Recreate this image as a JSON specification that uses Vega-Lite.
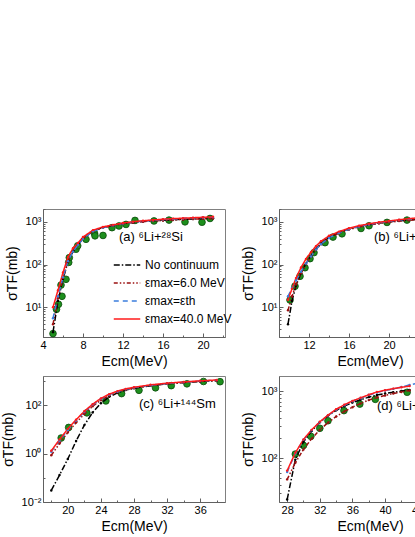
{
  "$schema": "https://vega.github.io/schema/vega-lite/v6.json",
  "background": "white",
  "padding": {"left": 0, "top": 208, "right": 0, "bottom": 0},
  "config": {
    "font": "Liberation Sans",
    "view": {"stroke": "#808080", "strokeWidth": 1},
    "axis": {"domainColor": "#606060", "tickColor": "#606060", "labelFontSize": 11, "labelColor": "black", "titleFontSize": 14, "titleFontWeight": "normal", "titleColor": "black", "grid": false, "labelFlush": false},
    "title": {"anchor": "start", "frame": "group", "orient": "top", "baseline": "middle", "fontSize": 13, "fontWeight": "normal", "font": "Liberation Sans", "color": "black"}
  },
  "datasets": {
    "exp": [
      {"p":"a","E":5.0,"s":2.4},{"p":"a","E":5.35,"s":8.9},{"p":"a","E":5.55,"s":11.7},{"p":"a","E":5.9,"s":18},{"p":"a","E":5.8,"s":33},{"p":"a","E":6.3,"s":45},{"p":"a","E":6.57,"s":112},{"p":"a","E":6.63,"s":145},{"p":"a","E":7.3,"s":228},{"p":"a","E":7.47,"s":275},{"p":"a","E":8.3,"s":390},{"p":"a","E":9.15,"s":540},{"p":"a","E":9.2,"s":470},{"p":"a","E":10.0,"s":480},{"p":"a","E":10.9,"s":730},{"p":"a","E":11.6,"s":800},{"p":"a","E":12.3,"s":870},{"p":"a","E":13.2,"s":1080},{"p":"a","E":15.1,"s":1050},{"p":"a","E":16.6,"s":1100},{"p":"a","E":18.2,"s":1000},{"p":"a","E":19.9,"s":980},{"p":"a","E":20.7,"s":1200},
      {"p":"b","E":10.1,"s":14.8},{"p":"b","E":10.6,"s":31},{"p":"b","E":11.1,"s":53},{"p":"b","E":11.6,"s":84},{"p":"b","E":12.1,"s":137},{"p":"b","E":12.5,"s":190},{"p":"b","E":13.6,"s":325},{"p":"b","E":14.4,"s":440},{"p":"b","E":15.3,"s":525},{"p":"b","E":17.2,"s":700},{"p":"b","E":18.0,"s":810},{"p":"b","E":19.8,"s":970},{"p":"b","E":21.8,"s":1100},{"p":"b","E":23.6,"s":1150},{"p":"b","E":25.4,"s":1200},
      {"p":"c","E":19.2,"s":4.4},{"p":"c","E":20.1,"s":12},{"p":"c","E":22.3,"s":48},{"p":"c","E":24.6,"s":150},{"p":"c","E":26.5,"s":300},{"p":"c","E":28.6,"s":410},{"p":"c","E":30.6,"s":520},{"p":"c","E":32.5,"s":640},{"p":"c","E":34.4,"s":760},{"p":"c","E":36.4,"s":950},{"p":"c","E":38.4,"s":930},
      {"p":"d","E":29.0,"s":115},{"p":"d","E":30.0,"s":155},{"p":"d","E":30.9,"s":212},{"p":"d","E":32.0,"s":280},{"p":"d","E":33.0,"s":363},{"p":"d","E":34.96,"s":515},{"p":"d","E":36.9,"s":645},{"p":"d","E":38.8,"s":760},{"p":"d","E":42.7,"s":970}
    ],
    "th": [
      {"p":"a","m":"No continuum","E":5,"s":2.6},{"p":"a","m":"No continuum","E":5.5,"s":14},{"p":"a","m":"No continuum","E":6,"s":46},{"p":"a","m":"No continuum","E":6.5,"s":115},{"p":"a","m":"No continuum","E":7,"s":200},{"p":"a","m":"No continuum","E":7.5,"s":290},{"p":"a","m":"No continuum","E":8,"s":410},{"p":"a","m":"No continuum","E":9,"s":610},{"p":"a","m":"No continuum","E":10,"s":740},{"p":"a","m":"No continuum","E":11,"s":830},{"p":"a","m":"No continuum","E":12,"s":910},{"p":"a","m":"No continuum","E":13,"s":970},{"p":"a","m":"No continuum","E":14,"s":1020},{"p":"a","m":"No continuum","E":15,"s":1060},{"p":"a","m":"No continuum","E":16,"s":1090},{"p":"a","m":"No continuum","E":17,"s":1120},{"p":"a","m":"No continuum","E":18,"s":1150},{"p":"a","m":"No continuum","E":19,"s":1170},{"p":"a","m":"No continuum","E":20,"s":1190},{"p":"a","m":"No continuum","E":21,"s":1210},
      {"p":"a","m":"εmax=6.0 MeV","E":5,"s":4},{"p":"a","m":"εmax=6.0 MeV","E":5.5,"s":16},{"p":"a","m":"εmax=6.0 MeV","E":6,"s":48},{"p":"a","m":"εmax=6.0 MeV","E":6.5,"s":118},{"p":"a","m":"εmax=6.0 MeV","E":7,"s":200},{"p":"a","m":"εmax=6.0 MeV","E":7.5,"s":290},{"p":"a","m":"εmax=6.0 MeV","E":8,"s":400},{"p":"a","m":"εmax=6.0 MeV","E":9,"s":600},{"p":"a","m":"εmax=6.0 MeV","E":10,"s":730},{"p":"a","m":"εmax=6.0 MeV","E":11,"s":820},{"p":"a","m":"εmax=6.0 MeV","E":12,"s":900},{"p":"a","m":"εmax=6.0 MeV","E":13,"s":960},{"p":"a","m":"εmax=6.0 MeV","E":14,"s":1010},{"p":"a","m":"εmax=6.0 MeV","E":15,"s":1050},{"p":"a","m":"εmax=6.0 MeV","E":16,"s":1080},{"p":"a","m":"εmax=6.0 MeV","E":17,"s":1110},{"p":"a","m":"εmax=6.0 MeV","E":18,"s":1140},{"p":"a","m":"εmax=6.0 MeV","E":19,"s":1160},{"p":"a","m":"εmax=6.0 MeV","E":20,"s":1180},{"p":"a","m":"εmax=6.0 MeV","E":21,"s":1200},
      {"p":"a","m":"εmax=εth","E":5,"s":5.5},{"p":"a","m":"εmax=εth","E":5.5,"s":18},{"p":"a","m":"εmax=εth","E":6,"s":50},{"p":"a","m":"εmax=εth","E":6.5,"s":120},{"p":"a","m":"εmax=εth","E":7,"s":200},{"p":"a","m":"εmax=εth","E":7.5,"s":290},{"p":"a","m":"εmax=εth","E":8,"s":400},{"p":"a","m":"εmax=εth","E":9,"s":600},{"p":"a","m":"εmax=εth","E":10,"s":730},{"p":"a","m":"εmax=εth","E":11,"s":830},{"p":"a","m":"εmax=εth","E":12,"s":920},{"p":"a","m":"εmax=εth","E":13,"s":990},{"p":"a","m":"εmax=εth","E":14,"s":1040},{"p":"a","m":"εmax=εth","E":15,"s":1090},{"p":"a","m":"εmax=εth","E":16,"s":1130},{"p":"a","m":"εmax=εth","E":17,"s":1170},{"p":"a","m":"εmax=εth","E":18,"s":1200},{"p":"a","m":"εmax=εth","E":19,"s":1230},{"p":"a","m":"εmax=εth","E":20,"s":1260},{"p":"a","m":"εmax=εth","E":21,"s":1290},
      {"p":"a","m":"εmax=40.0 MeV","E":5,"s":10},{"p":"a","m":"εmax=40.0 MeV","E":5.5,"s":25},{"p":"a","m":"εmax=40.0 MeV","E":6,"s":65},{"p":"a","m":"εmax=40.0 MeV","E":6.5,"s":150},{"p":"a","m":"εmax=40.0 MeV","E":7,"s":240},{"p":"a","m":"εmax=40.0 MeV","E":7.5,"s":320},{"p":"a","m":"εmax=40.0 MeV","E":8,"s":440},{"p":"a","m":"εmax=40.0 MeV","E":9,"s":640},{"p":"a","m":"εmax=40.0 MeV","E":10,"s":760},{"p":"a","m":"εmax=40.0 MeV","E":11,"s":850},{"p":"a","m":"εmax=40.0 MeV","E":12,"s":940},{"p":"a","m":"εmax=40.0 MeV","E":13,"s":1010},{"p":"a","m":"εmax=40.0 MeV","E":14,"s":1060},{"p":"a","m":"εmax=40.0 MeV","E":15,"s":1110},{"p":"a","m":"εmax=40.0 MeV","E":16,"s":1150},{"p":"a","m":"εmax=40.0 MeV","E":17,"s":1190},{"p":"a","m":"εmax=40.0 MeV","E":18,"s":1220},{"p":"a","m":"εmax=40.0 MeV","E":19,"s":1250},{"p":"a","m":"εmax=40.0 MeV","E":20,"s":1280},{"p":"a","m":"εmax=40.0 MeV","E":21,"s":1310},

      {"p":"b","m":"No continuum","E":9.9,"s":4},{"p":"b","m":"No continuum","E":10.3,"s":14},{"p":"b","m":"No continuum","E":10.7,"s":32},{"p":"b","m":"No continuum","E":11.2,"s":62},{"p":"b","m":"No continuum","E":11.7,"s":105},{"p":"b","m":"No continuum","E":12.2,"s":160},{"p":"b","m":"No continuum","E":12.7,"s":230},{"p":"b","m":"No continuum","E":13.2,"s":310},{"p":"b","m":"No continuum","E":14,"s":430},{"p":"b","m":"No continuum","E":15,"s":560},{"p":"b","m":"No continuum","E":16,"s":680},{"p":"b","m":"No continuum","E":17,"s":780},{"p":"b","m":"No continuum","E":18,"s":860},{"p":"b","m":"No continuum","E":19,"s":940},{"p":"b","m":"No continuum","E":20,"s":1000},{"p":"b","m":"No continuum","E":21,"s":1060},{"p":"b","m":"No continuum","E":22,"s":1110},{"p":"b","m":"No continuum","E":23,"s":1150},{"p":"b","m":"No continuum","E":24,"s":1190},{"p":"b","m":"No continuum","E":25,"s":1220},{"p":"b","m":"No continuum","E":26,"s":1250},
      {"p":"b","m":"εmax=6.0 MeV","E":9.9,"s":8.5},{"p":"b","m":"εmax=6.0 MeV","E":10.3,"s":18},{"p":"b","m":"εmax=6.0 MeV","E":10.7,"s":34},{"p":"b","m":"εmax=6.0 MeV","E":11.2,"s":62},{"p":"b","m":"εmax=6.0 MeV","E":11.7,"s":103},{"p":"b","m":"εmax=6.0 MeV","E":12.2,"s":155},{"p":"b","m":"εmax=6.0 MeV","E":12.7,"s":225},{"p":"b","m":"εmax=6.0 MeV","E":13.2,"s":300},{"p":"b","m":"εmax=6.0 MeV","E":14,"s":420},{"p":"b","m":"εmax=6.0 MeV","E":15,"s":540},{"p":"b","m":"εmax=6.0 MeV","E":16,"s":660},{"p":"b","m":"εmax=6.0 MeV","E":17,"s":760},{"p":"b","m":"εmax=6.0 MeV","E":18,"s":840},{"p":"b","m":"εmax=6.0 MeV","E":19,"s":920},{"p":"b","m":"εmax=6.0 MeV","E":20,"s":980},{"p":"b","m":"εmax=6.0 MeV","E":21,"s":1040},{"p":"b","m":"εmax=6.0 MeV","E":22,"s":1090},{"p":"b","m":"εmax=6.0 MeV","E":23,"s":1130},{"p":"b","m":"εmax=6.0 MeV","E":24,"s":1170},{"p":"b","m":"εmax=6.0 MeV","E":25,"s":1200},{"p":"b","m":"εmax=6.0 MeV","E":26,"s":1230},
      {"p":"b","m":"εmax=εth","E":9.9,"s":18},{"p":"b","m":"εmax=εth","E":10.3,"s":28},{"p":"b","m":"εmax=εth","E":10.7,"s":42},{"p":"b","m":"εmax=εth","E":11.2,"s":68},{"p":"b","m":"εmax=εth","E":11.7,"s":105},{"p":"b","m":"εmax=εth","E":12.2,"s":155},{"p":"b","m":"εmax=εth","E":12.7,"s":225},{"p":"b","m":"εmax=εth","E":13.2,"s":300},{"p":"b","m":"εmax=εth","E":14,"s":420},{"p":"b","m":"εmax=εth","E":15,"s":550},{"p":"b","m":"εmax=εth","E":16,"s":670},{"p":"b","m":"εmax=εth","E":17,"s":780},{"p":"b","m":"εmax=εth","E":18,"s":870},{"p":"b","m":"εmax=εth","E":19,"s":960},{"p":"b","m":"εmax=εth","E":20,"s":1030},{"p":"b","m":"εmax=εth","E":21,"s":1100},{"p":"b","m":"εmax=εth","E":22,"s":1160},{"p":"b","m":"εmax=εth","E":23,"s":1210},{"p":"b","m":"εmax=εth","E":24,"s":1260},{"p":"b","m":"εmax=εth","E":25,"s":1300},{"p":"b","m":"εmax=εth","E":26,"s":1340},
      {"p":"b","m":"εmax=40.0 MeV","E":9.9,"s":15},{"p":"b","m":"εmax=40.0 MeV","E":10.3,"s":27},{"p":"b","m":"εmax=40.0 MeV","E":10.7,"s":48},{"p":"b","m":"εmax=40.0 MeV","E":11.2,"s":85},{"p":"b","m":"εmax=40.0 MeV","E":11.7,"s":135},{"p":"b","m":"εmax=40.0 MeV","E":12.2,"s":195},{"p":"b","m":"εmax=40.0 MeV","E":12.7,"s":270},{"p":"b","m":"εmax=40.0 MeV","E":13.2,"s":350},{"p":"b","m":"εmax=40.0 MeV","E":14,"s":470},{"p":"b","m":"εmax=40.0 MeV","E":15,"s":590},{"p":"b","m":"εmax=40.0 MeV","E":16,"s":710},{"p":"b","m":"εmax=40.0 MeV","E":17,"s":810},{"p":"b","m":"εmax=40.0 MeV","E":18,"s":900},{"p":"b","m":"εmax=40.0 MeV","E":19,"s":980},{"p":"b","m":"εmax=40.0 MeV","E":20,"s":1050},{"p":"b","m":"εmax=40.0 MeV","E":21,"s":1120},{"p":"b","m":"εmax=40.0 MeV","E":22,"s":1190},{"p":"b","m":"εmax=40.0 MeV","E":23,"s":1250},{"p":"b","m":"εmax=40.0 MeV","E":24,"s":1300},{"p":"b","m":"εmax=40.0 MeV","E":25,"s":1340},{"p":"b","m":"εmax=40.0 MeV","E":26,"s":1380},

      {"p":"c","m":"No continuum","E":18,"s":0.03},{"p":"c","m":"No continuum","E":19,"s":0.13},{"p":"c","m":"No continuum","E":20,"s":0.6},{"p":"c","m":"No continuum","E":21,"s":3.3},{"p":"c","m":"No continuum","E":22,"s":15},{"p":"c","m":"No continuum","E":23,"s":50},{"p":"c","m":"No continuum","E":24,"s":120},{"p":"c","m":"No continuum","E":25,"s":220},{"p":"c","m":"No continuum","E":26,"s":320},{"p":"c","m":"No continuum","E":27,"s":420},{"p":"c","m":"No continuum","E":28,"s":500},{"p":"c","m":"No continuum","E":30,"s":640},{"p":"c","m":"No continuum","E":32,"s":760},{"p":"c","m":"No continuum","E":34,"s":860},{"p":"c","m":"No continuum","E":36,"s":950},{"p":"c","m":"No continuum","E":38,"s":1030},
      {"p":"c","m":"εmax=6.0 MeV","E":18,"s":0.85},{"p":"c","m":"εmax=6.0 MeV","E":19,"s":2.6},{"p":"c","m":"εmax=6.0 MeV","E":20,"s":7.5},{"p":"c","m":"εmax=6.0 MeV","E":21,"s":19},{"p":"c","m":"εmax=6.0 MeV","E":22,"s":43},{"p":"c","m":"εmax=6.0 MeV","E":23,"s":90},{"p":"c","m":"εmax=6.0 MeV","E":24,"s":160},{"p":"c","m":"εmax=6.0 MeV","E":25,"s":250},{"p":"c","m":"εmax=6.0 MeV","E":26,"s":340},{"p":"c","m":"εmax=6.0 MeV","E":27,"s":430},{"p":"c","m":"εmax=6.0 MeV","E":28,"s":510},{"p":"c","m":"εmax=6.0 MeV","E":30,"s":650},{"p":"c","m":"εmax=6.0 MeV","E":32,"s":770},{"p":"c","m":"εmax=6.0 MeV","E":34,"s":870},{"p":"c","m":"εmax=6.0 MeV","E":36,"s":960},{"p":"c","m":"εmax=6.0 MeV","E":38,"s":1040},
      {"p":"c","m":"εmax=εth","E":18,"s":1.2},{"p":"c","m":"εmax=εth","E":19,"s":3.4},{"p":"c","m":"εmax=εth","E":20,"s":9.5},{"p":"c","m":"εmax=εth","E":21,"s":23},{"p":"c","m":"εmax=εth","E":22,"s":52},{"p":"c","m":"εmax=εth","E":23,"s":105},{"p":"c","m":"εmax=εth","E":24,"s":180},{"p":"c","m":"εmax=εth","E":25,"s":270},{"p":"c","m":"εmax=εth","E":26,"s":360},{"p":"c","m":"εmax=εth","E":27,"s":450},{"p":"c","m":"εmax=εth","E":28,"s":530},{"p":"c","m":"εmax=εth","E":30,"s":670},{"p":"c","m":"εmax=εth","E":32,"s":790},{"p":"c","m":"εmax=εth","E":34,"s":890},{"p":"c","m":"εmax=εth","E":36,"s":990},{"p":"c","m":"εmax=εth","E":38,"s":1080},
      {"p":"c","m":"εmax=40.0 MeV","E":18,"s":1.3},{"p":"c","m":"εmax=40.0 MeV","E":19,"s":3.8},{"p":"c","m":"εmax=40.0 MeV","E":20,"s":10.5},{"p":"c","m":"εmax=40.0 MeV","E":21,"s":25},{"p":"c","m":"εmax=40.0 MeV","E":22,"s":56},{"p":"c","m":"εmax=40.0 MeV","E":23,"s":110},{"p":"c","m":"εmax=40.0 MeV","E":24,"s":190},{"p":"c","m":"εmax=40.0 MeV","E":25,"s":285},{"p":"c","m":"εmax=40.0 MeV","E":26,"s":380},{"p":"c","m":"εmax=40.0 MeV","E":27,"s":470},{"p":"c","m":"εmax=40.0 MeV","E":28,"s":550},{"p":"c","m":"εmax=40.0 MeV","E":30,"s":690},{"p":"c","m":"εmax=40.0 MeV","E":32,"s":810},{"p":"c","m":"εmax=40.0 MeV","E":34,"s":910},{"p":"c","m":"εmax=40.0 MeV","E":36,"s":1010},{"p":"c","m":"εmax=40.0 MeV","E":38,"s":1100},

      {"p":"d","m":"No continuum","E":28,"s":24},{"p":"d","m":"No continuum","E":29,"s":95},{"p":"d","m":"No continuum","E":30,"s":175},{"p":"d","m":"No continuum","E":31,"s":255},{"p":"d","m":"No continuum","E":32,"s":345},{"p":"d","m":"No continuum","E":33,"s":430},{"p":"d","m":"No continuum","E":34,"s":520},{"p":"d","m":"No continuum","E":35,"s":600},{"p":"d","m":"No continuum","E":36,"s":680},{"p":"d","m":"No continuum","E":37,"s":750},{"p":"d","m":"No continuum","E":38,"s":820},{"p":"d","m":"No continuum","E":39,"s":880},{"p":"d","m":"No continuum","E":40,"s":930},{"p":"d","m":"No continuum","E":41,"s":970},{"p":"d","m":"No continuum","E":42,"s":1010},{"p":"d","m":"No continuum","E":43,"s":1050},
      {"p":"d","m":"εmax=6.0 MeV","E":28,"s":48},{"p":"d","m":"εmax=6.0 MeV","E":29,"s":85},{"p":"d","m":"εmax=6.0 MeV","E":30,"s":135},{"p":"d","m":"εmax=6.0 MeV","E":31,"s":195},{"p":"d","m":"εmax=6.0 MeV","E":32,"s":265},{"p":"d","m":"εmax=6.0 MeV","E":33,"s":340},{"p":"d","m":"εmax=6.0 MeV","E":34,"s":420},{"p":"d","m":"εmax=6.0 MeV","E":35,"s":500},{"p":"d","m":"εmax=6.0 MeV","E":36,"s":580},{"p":"d","m":"εmax=6.0 MeV","E":37,"s":660},{"p":"d","m":"εmax=6.0 MeV","E":38,"s":740},{"p":"d","m":"εmax=6.0 MeV","E":39,"s":810},{"p":"d","m":"εmax=6.0 MeV","E":40,"s":870},{"p":"d","m":"εmax=6.0 MeV","E":41,"s":930},{"p":"d","m":"εmax=6.0 MeV","E":42,"s":980},{"p":"d","m":"εmax=6.0 MeV","E":43,"s":1030},
      {"p":"d","m":"εmax=εth","E":28,"s":62},{"p":"d","m":"εmax=εth","E":29,"s":118},{"p":"d","m":"εmax=εth","E":30,"s":188},{"p":"d","m":"εmax=εth","E":31,"s":262},{"p":"d","m":"εmax=εth","E":32,"s":345},{"p":"d","m":"εmax=εth","E":33,"s":435},{"p":"d","m":"εmax=εth","E":34,"s":530},{"p":"d","m":"εmax=εth","E":35,"s":620},{"p":"d","m":"εmax=εth","E":36,"s":710},{"p":"d","m":"εmax=εth","E":37,"s":790},{"p":"d","m":"εmax=εth","E":38,"s":880},{"p":"d","m":"εmax=εth","E":39,"s":960},{"p":"d","m":"εmax=εth","E":40,"s":1030},{"p":"d","m":"εmax=εth","E":41,"s":1090},{"p":"d","m":"εmax=εth","E":42,"s":1160},{"p":"d","m":"εmax=εth","E":43,"s":1250},{"p":"d","m":"εmax=εth","E":44,"s":1330},
      {"p":"d","m":"εmax=40.0 MeV","E":28,"s":65},{"p":"d","m":"εmax=40.0 MeV","E":29,"s":120},{"p":"d","m":"εmax=40.0 MeV","E":30,"s":190},{"p":"d","m":"εmax=40.0 MeV","E":31,"s":265},{"p":"d","m":"εmax=40.0 MeV","E":32,"s":350},{"p":"d","m":"εmax=40.0 MeV","E":33,"s":440},{"p":"d","m":"εmax=40.0 MeV","E":34,"s":540},{"p":"d","m":"εmax=40.0 MeV","E":35,"s":630},{"p":"d","m":"εmax=40.0 MeV","E":36,"s":720},{"p":"d","m":"εmax=40.0 MeV","E":37,"s":800},{"p":"d","m":"εmax=40.0 MeV","E":38,"s":890},{"p":"d","m":"εmax=40.0 MeV","E":39,"s":980},{"p":"d","m":"εmax=40.0 MeV","E":40,"s":1040},{"p":"d","m":"εmax=40.0 MeV","E":41,"s":1100},{"p":"d","m":"εmax=40.0 MeV","E":42,"s":1150},{"p":"d","m":"εmax=40.0 MeV","E":43,"s":1200}
    ]
  },
  "resolve": {"scale": {"color": "independent", "strokeDash": "independent"}},
  "columns": 2,
  "spacing": {"row": 6, "column": 7},
  "concat": [
    {
      "width": 182, "height": 128,
      "title": {"text": "(a) ⁶Li+²⁸Si", "dx": 76, "offset": -35},
      "encoding": {
        "x": {"field": "E", "type": "quantitative", "scale": {"domain": [4, 22.2], "nice": false, "zero": false},
          "axis": {"title": "Ecm(MeV)", "values": [4,6,8,10,12,14,16,18,20,22], "labelExpr": "datum.value % 4 == 0 ? datum.label : ''", "tickSize": {"condition": {"test": "datum.value % 4 == 0", "value": -4}, "value": -2}, "labelPadding": 6, "titlePadding": 4}},
        "y": {"field": "s", "type": "quantitative", "scale": {"type": "log", "domain": [2, 2000], "nice": false},
          "axis": {"title": "σTF(mb)", "values": [2,3,4,5,6,7,8,9,10,20,30,40,50,60,70,80,90,100,200,300,400,500,600,700,800,900,1000,2000], "labelExpr": "datum.value == 1000 ? '10³' : datum.value == 100 ? '10²' : datum.value == 10 ? '10¹' : ''", "tickSize": {"condition": {"test": "indexof([10,100,1000], datum.value) >= 0", "value": -4}, "value": -2}, "labelPadding": 6, "titlePadding": 6}}
      },
      "layer": [
        {"data": {"name": "exp"}, "transform": [{"filter": "datum.p == 'a'"}],
         "mark": {"type": "point", "filled": true, "size": 45, "fill": "#1d8f1d", "stroke": "#0b4a0b", "strokeWidth": 0.8, "opacity": 1}},
        {"data": {"name": "th"}, "transform": [{"filter": "datum.p == 'a'"}],
         "mark": {"type": "line", "strokeWidth": 1.5, "point": {"filled": true, "size": 6}},
         "encoding": {
           "color": {"field": "m", "type": "nominal", "scale": {"domain": ["No continuum", "εmax=6.0 MeV", "εmax=εth", "εmax=40.0 MeV"], "range": ["#000000", "#9b1010", "#3b7ddd", "#ff1a1a"]},
             "legend": {"orient": "none", "legendX": 70, "legendY": 50, "title": null, "symbolType": "stroke", "symbolSize": 700, "symbolStrokeWidth": 1.5, "labelFontSize": 12, "labelFont": "Liberation Sans", "rowPadding": 6, "clipHeight": 12, "labelOffset": 4}},
           "strokeDash": {"field": "m", "type": "nominal", "scale": {"domain": ["No continuum", "εmax=6.0 MeV", "εmax=εth", "εmax=40.0 MeV"], "range": [[6,2,1.5,2], [4,2,1.5,2,1.5,2], [5,4], [1,0]]},
             "legend": {"orient": "none", "legendX": 70, "legendY": 50, "title": null, "symbolType": "stroke", "symbolSize": 700, "symbolStrokeWidth": 1.5, "labelFontSize": 12, "labelFont": "Liberation Sans", "rowPadding": 6, "clipHeight": 12, "labelOffset": 4}}
         }}
      ]
    },
    {
      "width": 182, "height": 128,
      "title": {"text": "(b) ⁶Li+⁵⁹Co", "dx": 95, "offset": -35},
      "encoding": {
        "x": {"field": "E", "type": "quantitative", "scale": {"domain": [9, 27.2], "nice": false, "zero": false},
          "axis": {"title": "Ecm(MeV)", "values": [10,12,14,16,18,20,22,24,26], "labelExpr": "datum.value % 4 == 0 ? datum.label : ''", "tickSize": {"condition": {"test": "datum.value % 4 == 0", "value": -4}, "value": -2}, "labelPadding": 6, "titlePadding": 4}},
        "y": {"field": "s", "type": "quantitative", "scale": {"type": "log", "domain": [2, 2000], "nice": false},
          "axis": {"title": "σTF(mb)", "values": [2,3,4,5,6,7,8,9,10,20,30,40,50,60,70,80,90,100,200,300,400,500,600,700,800,900,1000,2000], "labelExpr": "datum.value == 1000 ? '10³' : datum.value == 100 ? '10²' : datum.value == 10 ? '10¹' : ''", "tickSize": {"condition": {"test": "indexof([10,100,1000], datum.value) >= 0", "value": -4}, "value": -2}, "labelPadding": 6, "titlePadding": 6}}
      },
      "layer": [
        {"data": {"name": "exp"}, "transform": [{"filter": "datum.p == 'b'"}],
         "mark": {"type": "point", "filled": true, "size": 45, "fill": "#1d8f1d", "stroke": "#0b4a0b", "strokeWidth": 0.8, "opacity": 1}},
        {"data": {"name": "th"}, "transform": [{"filter": "datum.p == 'b'"}],
         "mark": {"type": "line", "strokeWidth": 1.5, "point": {"filled": true, "size": 6}},
         "encoding": {
           "color": {"field": "m", "type": "nominal", "scale": {"domain": ["No continuum", "εmax=6.0 MeV", "εmax=εth", "εmax=40.0 MeV"], "range": ["#000000", "#9b1010", "#3b7ddd", "#ff1a1a"]}, "legend": null},
           "strokeDash": {"field": "m", "type": "nominal", "scale": {"domain": ["No continuum", "εmax=6.0 MeV", "εmax=εth", "εmax=40.0 MeV"], "range": [[6,2,1.5,2], [4,2,1.5,2,1.5,2], [5,4], [1,0]]}, "legend": null}
         }}
      ]
    },
    {
      "width": 182, "height": 126,
      "title": {"text": "(c) ⁶Li+¹⁴⁴Sm", "dx": 96, "offset": -35},
      "encoding": {
        "x": {"field": "E", "type": "quantitative", "scale": {"domain": [17, 39], "nice": false, "zero": false},
          "axis": {"title": "Ecm(MeV)", "values": [18,20,22,24,26,28,30,32,34,36,38], "labelExpr": "datum.value % 4 == 0 ? datum.label : ''", "tickSize": {"condition": {"test": "datum.value % 4 == 0", "value": -4}, "value": -2}, "labelPadding": 6, "titlePadding": 4}},
        "y": {"field": "s", "type": "quantitative", "scale": {"type": "log", "domain": [0.01, 1600], "nice": false},
          "axis": {"title": "σTF(mb)", "values": [0.01, 0.1, 1, 10, 100, 1000], "labelExpr": "datum.value == 100 ? '10²' : datum.value == 1 ? '10⁰' : datum.value == 0.01 ? '10⁻²' : ''", "tickSize": {"condition": {"test": "indexof([0.01,1,100], datum.value) >= 0", "value": -4}, "value": -2}, "labelPadding": 6, "titlePadding": 6}}
      },
      "layer": [
        {"data": {"name": "exp"}, "transform": [{"filter": "datum.p == 'c'"}],
         "mark": {"type": "point", "filled": true, "size": 45, "fill": "#1d8f1d", "stroke": "#0b4a0b", "strokeWidth": 0.8, "opacity": 1}},
        {"data": {"name": "th"}, "transform": [{"filter": "datum.p == 'c'"}],
         "mark": {"type": "line", "strokeWidth": 1.5, "point": {"filled": true, "size": 6}},
         "encoding": {
           "color": {"field": "m", "type": "nominal", "scale": {"domain": ["No continuum", "εmax=6.0 MeV", "εmax=εth", "εmax=40.0 MeV"], "range": ["#000000", "#9b1010", "#3b7ddd", "#ff1a1a"]}, "legend": null},
           "strokeDash": {"field": "m", "type": "nominal", "scale": {"domain": ["No continuum", "εmax=6.0 MeV", "εmax=εth", "εmax=40.0 MeV"], "range": [[6,2,1.5,2], [4,2,1.5,2,1.5,2], [5,4], [1,0]]}, "legend": null}
         }}
      ]
    },
    {
      "width": 182, "height": 126,
      "title": {"text": "(d) ⁶Li+²⁰⁹Bi", "dx": 98, "offset": -37},
      "encoding": {
        "x": {"field": "E", "type": "quantitative", "scale": {"domain": [27, 49.3], "nice": false, "zero": false},
          "axis": {"title": "Ecm(MeV)", "values": [28,30,32,34,36,38,40,42,44,46,48], "labelExpr": "datum.value % 4 == 0 ? datum.label : ''", "tickSize": {"condition": {"test": "datum.value % 4 == 0", "value": -4}, "value": -2}, "labelPadding": 6, "titlePadding": 4}},
        "y": {"field": "s", "type": "quantitative", "scale": {"type": "log", "domain": [22, 1700], "nice": false},
          "axis": {"title": "σTF(mb)", "values": [30,40,50,60,70,80,90,100,200,300,400,500,600,700,800,900,1000], "labelExpr": "datum.value == 1000 ? '10³' : datum.value == 100 ? '10²' : ''", "tickSize": {"condition": {"test": "indexof([100,1000], datum.value) >= 0", "value": -4}, "value": -2}, "labelPadding": 6, "titlePadding": 6}}
      },
      "layer": [
        {"data": {"name": "exp"}, "transform": [{"filter": "datum.p == 'd'"}],
         "mark": {"type": "point", "filled": true, "size": 45, "fill": "#1d8f1d", "stroke": "#0b4a0b", "strokeWidth": 0.8, "opacity": 1}},
        {"data": {"name": "th"}, "transform": [{"filter": "datum.p == 'd'"}],
         "mark": {"type": "line", "strokeWidth": 1.5, "point": {"filled": true, "size": 6}},
         "encoding": {
           "color": {"field": "m", "type": "nominal", "scale": {"domain": ["No continuum", "εmax=6.0 MeV", "εmax=εth", "εmax=40.0 MeV"], "range": ["#000000", "#9b1010", "#3b7ddd", "#ff1a1a"]}, "legend": null},
           "strokeDash": {"field": "m", "type": "nominal", "scale": {"domain": ["No continuum", "εmax=6.0 MeV", "εmax=εth", "εmax=40.0 MeV"], "range": [[6,2,1.5,2], [4,2,1.5,2,1.5,2], [5,4], [1,0]]}, "legend": null}
         }}
      ]
    }
  ]
}
